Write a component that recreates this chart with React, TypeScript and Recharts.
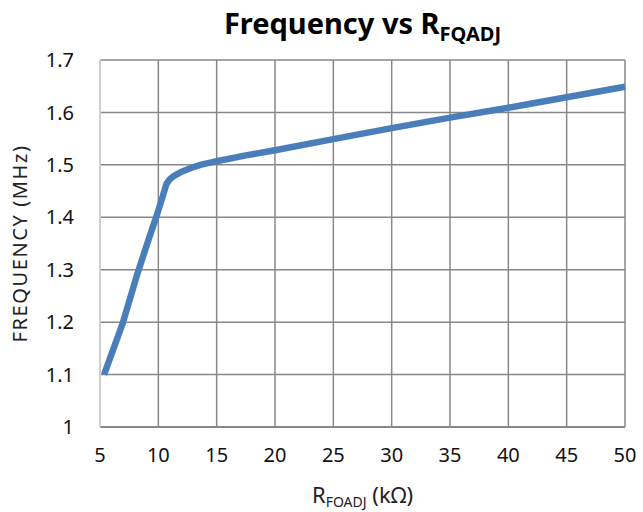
import React from 'react';
import { LineChart, Line, XAxis, YAxis, CartesianGrid } from 'recharts';

const resistanceK = [5.35, 6.95, 8.2, 9.2, 9.9, 10.35, 10.7, 11.0, 11.35, 12.0, 12.8, 13.6, 15, 17.5, 20, 25, 30, 35, 40, 45, 50];
const frequencyMHz = [1.1, 1.198, 1.292, 1.36, 1.406, 1.438, 1.464, 1.473, 1.479, 1.487, 1.494, 1.5, 1.507, 1.518, 1.528, 1.549, 1.57, 1.59, 1.609, 1.629, 1.649];
const xTicks = [5, 10, 15, 20, 25, 30, 35, 40, 45, 50];
const yTicks = [1, 1.1, 1.2, 1.3, 1.4, 1.5, 1.6, 1.7];

const data = resistanceK.map((r, i) => ({ r, f: frequencyMHz[i] }));

const FONT = '"Noto Sans", "Open Sans", sans-serif';

const XLabel = (props: any) => {
  const vb = props.viewBox || {};
  const cx = vb.x + vb.width / 2;
  return (
    <text x={cx} y={503} textAnchor="middle" fontFamily={FONT} fontSize={22} fill="#222">
      <tspan>R</tspan>
      <tspan fontSize={14} dy={4}>FOADJ</tspan>
      <tspan dy={-4}> (kΩ)</tspan>
    </text>
  );
};

const YLabel = (props: any) => {
  const vb = props.viewBox || {};
  const cy = vb.y + vb.height / 2;
  return (
    <text
      x={27}
      y={cy}
      transform={`rotate(-90, 27, ${cy})`}
      textAnchor="middle"
      fontFamily={FONT}
      fontSize={20}
      letterSpacing={1.6}
      fill="#222"
    >
      FREQUENCY (MHz)
    </text>
  );
};

export default function App() {
  return (
    <div style={{ position: 'absolute', left: 0, top: 0, width: 643, height: 512, background: '#fff' }}>
      <div
        style={{
          position: 'absolute',
          left: 100,
          width: 525,
          top: 3,
          textAlign: 'center',
          fontFamily: FONT,
          fontWeight: 700,
          fontSize: 29,
          color: '#000',
          lineHeight: '40px',
          whiteSpace: 'nowrap',
        }}
      >
        Frequency vs R
        <span style={{ fontSize: 20, position: 'relative', top: 7 }}>FQADJ</span>
      </div>
      <LineChart
        width={643}
        height={512}
        data={data}
        margin={{ top: 60, right: 18, left: 0, bottom: 55 }}
      >
        <CartesianGrid stroke="#888" strokeWidth={1.5} />
        <XAxis
          dataKey="r"
          type="number"
          domain={[5, 50]}
          ticks={xTicks}
          interval={0}
          height={30}
          tickLine={false}
          tickSize={0}
          tickMargin={21}
          axisLine={{ stroke: '#888', strokeWidth: 2 }}
          tick={{ fontFamily: FONT, fontSize: 20, fill: '#111' }}
          label={<XLabel />}
        />
        <YAxis
          type="number"
          domain={[1, 1.7]}
          ticks={yTicks}
          interval={0}
          width={100}
          tickLine={false}
          tickSize={0}
          tickMargin={26}
          axisLine={{ stroke: '#cfcfcf', strokeWidth: 2 }}
          tickFormatter={(v: number) => (v === 1 ? '1' : v.toFixed(1))}
          tick={{ fontFamily: FONT, fontSize: 20, fill: '#111' }}
          label={<YLabel />}
        />
        <Line
          type="linear"
          dataKey="f"
          stroke="#4A7EBB"
          strokeWidth={6.5}
          strokeLinejoin="round"
          strokeLinecap="butt"
          dot={false}
          isAnimationActive={false}
        />
      </LineChart>
    </div>
  );
}
